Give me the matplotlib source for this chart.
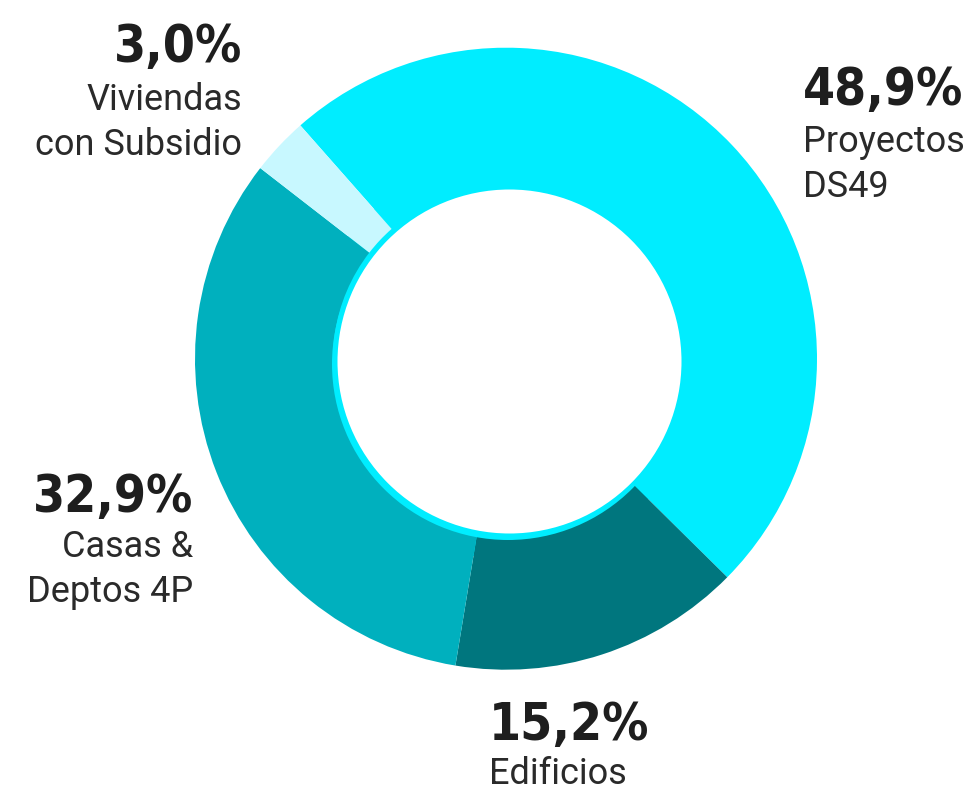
import matplotlib
matplotlib.use("Agg")
import matplotlib.pyplot as plt
from matplotlib.patches import Circle

# Share of each segment (percent)
categories = ["Proyectos\nDS49", "Edificios", "Casas &\nDeptos 4P", "Viviendas\ncon Subsidio"]
values = [48.9, 15.2, 32.9, 3.0]
pct_labels = ["48,9%", "15,2%", "32,9%", "3,0%"]
colors = ["#00EDFF", "#00767E", "#00B0BE", "#C8F8FF"]

W, H = 969, 793
fig = plt.figure(figsize=(W / 100, H / 100), dpi=100)
ax = fig.add_axes([0, 0, 1, 1])


def py(y):
    return H - y


cx, cy, R = 506, py(358.7), 311
# cyan backing disc so the ring's hole edge shows a cyan rim
ax.add_patch(Circle((cx, cy), 200, facecolor=colors[0], edgecolor="none", zorder=0))
ax.pie(values, colors=colors, startangle=131.4, counterclock=False,
       radius=R, center=(cx, cy), frame=True,
       wedgeprops=dict(width=R - 173, linewidth=0, zorder=1))

# inner cyan rim and the white hole
ax.add_patch(Circle((508, py(364)), 176, facecolor=colors[0], edgecolor="none", zorder=3))
ax.add_patch(Circle((509.5, py(361.5)), 172, facecolor="white", edgecolor="none", zorder=4))

ax.set_xlim(0, W)
ax.set_ylim(0, H)
ax.set_aspect("equal")
ax.axis("off")

pct_font = dict(family=["DejaVu Sans"], stretch="condensed", weight="bold",
                size=37, color="#1E1E1E")
lab_font = dict(family=["Roboto", "DejaVu Sans"], size=26, color="#2A2A2A")

# (x, baseline of percent, baseline of first label line, alignment)
placements = [
    (803, 105, 152, "left"),
    (489, 740, 784, "left"),
    (193, 512, 557, "right"),
    (242, 62, 110, "right"),
]

for (x, yp, yl, ha), pct, cat in zip(placements, pct_labels, categories):
    ax.text(x, py(yp), pct, ha=ha, va="baseline", **pct_font)
    for i, line in enumerate(cat.split("\n")):
        ax.text(x, py(yl + 45 * i), line, ha=ha, va="baseline", **lab_font)

fig.savefig("out.png", dpi=100, facecolor="white")
